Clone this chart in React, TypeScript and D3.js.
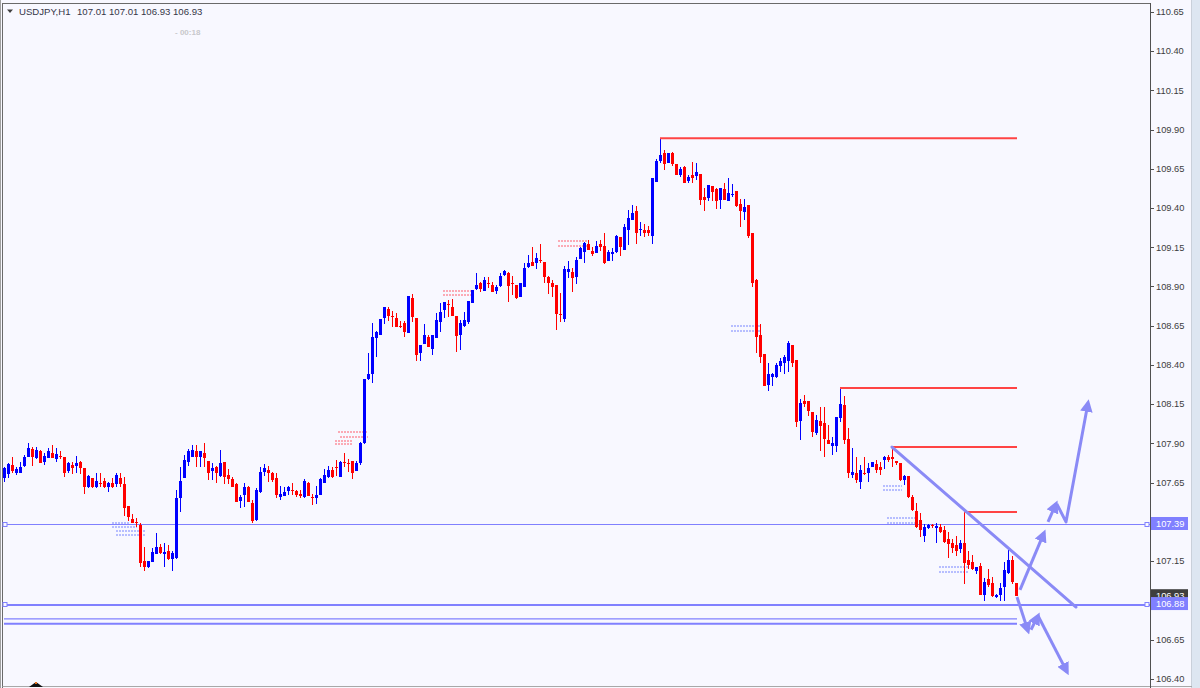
import React from "react";
import * as d3 from "d3";

// ---- OHLC data (USDJPY H1), oldest to newest ----
const opens = [
107.680,107.706,107.763,107.712,107.712,107.757,107.813,107.865,107.807,107.852,
107.782,107.807,107.839,107.801,107.820,107.813,107.725,107.763,107.757,107.782,
107.744,107.622,107.680,107.622,107.648,107.661,107.622,107.648,107.642,107.680,
107.642,107.502,107.419,107.400,107.381,107.152,107.113,107.145,107.197,107.241,
107.197,107.216,107.165,107.171,107.553,107.680,107.782,107.813,107.852,107.813,
107.839,107.789,107.725,107.750,107.693,107.782,107.699,107.674,107.642,107.534,
107.572,107.622,107.521,107.413,107.591,107.718,107.731,107.712,107.680,107.559,
107.566,107.597,107.604,107.597,107.579,107.559,107.648,107.559,107.553,107.572,
107.648,107.686,107.731,107.750,107.686,107.782,107.776,107.789,107.725,107.776,
107.903,108.311,108.342,108.571,108.591,108.699,108.756,108.712,108.699,108.648,
108.667,108.603,108.826,108.699,108.476,108.534,108.578,108.501,108.571,108.673,
108.750,108.788,108.769,108.712,108.591,108.648,108.673,108.794,108.883,108.922,
108.871,108.922,108.909,108.871,108.903,108.972,108.985,108.922,108.909,108.832,
108.896,109.023,109.055,109.049,109.068,109.055,108.960,108.922,108.909,108.724,
108.692,108.991,108.991,108.960,109.075,109.119,109.170,109.125,109.113,109.170,
109.157,109.062,109.106,109.119,109.214,109.132,109.259,109.322,109.380,109.259,
109.259,109.259,109.221,109.564,109.698,109.749,109.685,109.749,109.679,109.609,
109.660,109.571,109.609,109.603,109.615,109.469,109.462,109.539,109.520,109.450,
109.520,109.443,109.482,109.507,109.424,109.373,109.418,109.240,108.941,108.591,
108.470,108.272,108.323,108.323,108.393,108.412,108.425,108.527,108.431,108.043,
108.170,108.170,108.100,107.967,108.043,108.030,107.922,107.884,107.884,108.062,
108.145,107.928,107.699,107.712,107.654,107.712,107.712,107.750,107.770,107.750,
107.795,107.813,107.813,107.789,107.776,107.667,107.693,107.559,107.470,107.413,
107.311,107.362,107.381,107.362,107.368,107.349,107.292,107.266,107.254,107.228,
107.266,107.158,107.145,107.088,107.120,106.935,107.037,107.012,106.922,106.935,
106.986,107.075,107.158,107.010
];
const highs = [
107.750,107.776,107.813,107.750,107.782,107.826,107.903,107.877,107.877,107.858,
107.839,107.871,107.890,107.871,107.852,107.813,107.782,107.782,107.820,107.789,
107.744,107.699,107.680,107.712,107.712,107.680,107.654,107.680,107.712,107.712,
107.686,107.502,107.451,107.425,107.394,107.241,107.152,107.235,107.330,107.260,
107.266,107.254,107.216,107.604,107.750,107.826,107.865,107.890,107.890,107.852,
107.903,107.789,107.776,107.757,107.858,107.782,107.738,107.686,107.648,107.572,
107.648,107.629,107.540,107.616,107.750,107.770,107.757,107.718,107.712,107.629,
107.622,107.629,107.648,107.604,107.604,107.674,107.654,107.579,107.629,107.680,
107.738,107.757,107.750,107.795,107.789,107.839,107.801,107.789,107.789,107.909,
108.311,108.476,108.667,108.616,108.692,108.769,108.769,108.743,108.731,108.680,
108.680,108.839,108.851,108.699,108.527,108.661,108.591,108.591,108.731,108.794,
108.800,108.813,108.820,108.712,108.686,108.737,108.807,108.877,108.985,108.928,
108.960,108.960,108.928,108.909,108.985,109.004,108.991,108.966,108.909,108.922,
109.049,109.100,109.151,109.113,109.170,109.055,108.966,108.941,108.909,108.858,
109.030,109.062,109.017,109.087,109.151,109.182,109.195,109.151,109.189,109.195,
109.240,109.132,109.144,109.227,109.214,109.297,109.386,109.418,109.412,109.310,
109.297,109.284,109.590,109.711,109.845,109.768,109.749,109.755,109.679,109.660,
109.666,109.609,109.692,109.685,109.615,109.526,109.545,109.539,109.526,109.526,
109.558,109.590,109.552,109.507,109.456,109.456,109.418,109.240,108.947,108.661,
108.470,108.412,108.348,108.412,108.444,108.463,108.552,108.527,108.431,108.183,
108.208,108.170,108.100,108.081,108.132,108.132,108.018,107.941,108.068,108.253,
108.202,107.998,107.871,107.813,107.763,107.813,107.776,107.782,107.795,107.782,
107.820,107.826,107.877,107.789,107.776,107.699,107.693,107.572,107.521,107.457,
107.387,107.387,107.387,107.394,107.387,107.375,107.336,107.292,107.311,107.285,
107.464,107.216,107.190,107.113,107.139,107.043,107.101,107.050,106.941,107.012,
107.145,107.222,107.184,107.010
];
const lows = [
107.654,107.680,107.712,107.699,107.712,107.750,107.813,107.757,107.801,107.776,
107.763,107.807,107.807,107.782,107.801,107.686,107.712,107.706,107.712,107.706,
107.579,107.616,107.616,107.616,107.622,107.616,107.591,107.616,107.622,107.622,
107.438,107.407,107.394,107.368,107.113,107.088,107.107,107.145,107.197,107.197,
107.113,107.158,107.088,107.165,107.464,107.680,107.757,107.813,107.750,107.750,
107.750,107.667,107.667,107.648,107.686,107.642,107.642,107.622,107.527,107.489,
107.495,107.527,107.394,107.407,107.585,107.693,107.654,107.654,107.553,107.540,
107.566,107.572,107.572,107.559,107.553,107.553,107.566,107.508,107.515,107.572,
107.648,107.680,107.680,107.693,107.686,107.750,107.718,107.674,107.725,107.763,
107.897,108.304,108.285,108.450,108.591,108.661,108.680,108.641,108.641,108.635,
108.578,108.603,108.673,108.425,108.425,108.534,108.514,108.463,108.571,108.610,
108.699,108.705,108.712,108.482,108.495,108.641,108.661,108.794,108.877,108.864,
108.871,108.890,108.864,108.851,108.896,108.966,108.800,108.845,108.820,108.832,
108.896,109.017,109.030,109.011,109.049,108.922,108.851,108.832,108.622,108.673,
108.673,108.953,108.864,108.916,109.075,109.049,109.132,109.094,109.113,109.125,
109.042,109.062,109.062,109.113,109.094,109.132,109.163,109.322,109.170,109.221,
109.214,109.221,109.170,109.564,109.685,109.641,109.685,109.666,109.609,109.596,
109.558,109.558,109.558,109.577,109.418,109.380,109.443,109.443,109.392,109.392,
109.450,109.443,109.469,109.405,109.278,109.322,109.208,108.896,108.476,108.412,
108.266,108.234,108.266,108.317,108.355,108.342,108.355,108.387,108.005,107.922,
108.132,108.075,107.941,107.954,107.852,107.813,107.897,107.826,107.846,108.037,
107.897,107.680,107.680,107.648,107.610,107.699,107.654,107.750,107.712,107.699,
107.738,107.782,107.750,107.763,107.661,107.635,107.553,107.470,107.362,107.304,
107.273,107.355,107.362,107.266,107.330,107.266,107.171,107.203,107.184,107.203,
107.005,107.101,107.094,107.069,106.935,106.897,106.986,106.922,106.916,106.897,
106.897,107.069,107.005,106.930
];
const closes = [
107.744,107.770,107.725,107.738,107.750,107.813,107.871,107.813,107.858,107.776,
107.820,107.852,107.807,107.833,107.813,107.712,107.776,107.744,107.776,107.744,
107.622,107.693,107.622,107.661,107.642,107.622,107.648,107.622,107.699,107.642,
107.489,107.432,107.394,107.394,107.139,107.113,107.152,107.209,107.241,107.203,
107.209,107.165,107.203,107.553,107.661,107.795,107.852,107.858,107.813,107.852,
107.807,107.712,107.744,107.712,107.776,107.686,107.674,107.622,107.527,107.559,
107.622,107.527,107.407,107.604,107.718,107.744,107.712,107.667,107.572,107.579,
107.591,107.622,107.597,107.572,107.566,107.661,107.566,107.553,107.572,107.674,
107.699,107.731,107.686,107.744,107.782,107.776,107.770,107.712,107.776,107.903,
108.311,108.342,108.578,108.610,108.692,108.769,108.712,108.705,108.641,108.641,
108.610,108.839,108.705,108.463,108.527,108.591,108.514,108.591,108.686,108.737,
108.800,108.781,108.712,108.584,108.667,108.686,108.807,108.877,108.909,108.883,
108.941,108.916,108.864,108.896,108.966,108.998,108.903,108.916,108.826,108.922,
109.017,109.049,109.030,109.081,109.062,108.960,108.922,108.896,108.724,108.718,
109.011,109.011,108.953,109.068,109.144,109.176,109.132,109.106,109.157,109.151,
109.049,109.119,109.119,109.221,109.151,109.278,109.335,109.367,109.240,109.265,
109.240,109.240,109.590,109.698,109.736,109.679,109.749,109.679,109.609,109.647,
109.558,109.596,109.590,109.628,109.450,109.450,109.545,109.501,109.443,109.526,
109.450,109.494,109.488,109.412,109.380,109.405,109.221,108.922,108.578,108.450,
108.266,108.342,108.342,108.399,108.425,108.450,108.540,108.412,108.037,108.158,
108.151,108.107,107.973,108.049,108.011,107.928,107.897,107.903,108.068,108.151,
107.922,107.712,107.718,107.667,107.731,107.706,107.744,107.782,107.731,107.731,
107.813,107.795,107.801,107.776,107.667,107.693,107.559,107.476,107.368,107.349,
107.368,107.381,107.375,107.375,107.336,107.273,107.260,107.235,107.216,107.266,
107.139,107.126,107.101,107.113,106.935,107.018,106.999,106.929,106.935,106.980,
107.094,107.158,107.018,106.930
];

// ---- axis ticks ----
const priceTicks = [106.40, 106.65, 106.90, 107.15, 107.40, 107.65, 107.90, 108.15, 108.40,
  108.65, 108.90, 109.15, 109.40, 109.65, 109.90, 110.15, 110.40, 110.65];

// ---- annotations ----
const resistanceStart = [164, 209, 222, 240];
const resistancePrice = [109.845, 108.253, 107.877, 107.464];
const resistanceEnd = 253.25;

const fullLinePrices = [107.39, 106.88];
const fullLineExtra = [106.872];
const shortLinePrices = [106.782, 106.751];
const shortLineWidths = [1.3, 2];

const trendLine: [number, number][] = [[222, 107.877], [268, 106.858]];
const arrowPaths: [number, number][][] = [
  [[254, 106.967], [260, 107.330]],
  [[261, 107.400], [263, 107.515]],
  [[263.2, 107.515], [265.5, 107.400], [271, 108.158]],
  [[253.25, 106.922], [256, 106.706]],
  [[256.75, 106.713], [258.5, 106.802]],
  [[258.5, 106.802], [265.75, 106.445]],
];

// dotted trade marks: [fromIndex, toIndex, price]
const redMarks: [number, number, number][] = [
  [83.5, 91, 107.973], [84, 91, 107.941], [82.75, 87.25, 107.916], [82.75, 87, 107.897],
  [109.75, 117.25, 108.871], [109.75, 116.75, 108.845],
  [138.5, 146, 109.189], [138.5, 146, 109.157],
];
const blueMarks: [number, number, number][] = [
  [27, 31.5, 107.394], [27, 33.25, 107.368], [28, 35.25, 107.343], [28, 35.25, 107.317],
  [181.75, 189, 108.648], [181.75, 189, 108.616],
  [219.75, 224.5, 107.629], [219.75, 224.5, 107.604],
  [220.75, 228.25, 107.425], [220.75, 228.25, 107.394],
  [233.75, 241, 107.113], [233.75, 241, 107.081],
];

const symbol = "USDJPY,H1";

const W = 1200;
const H = 688;
const AXIS_X = 1150.5;
const FONT = "'Liberation Sans', Arial, sans-serif";
const BULL = "#0000ff";
const BEAR = "#ff0000";
const LINE_BLUE = "#8080ff";
const ARROW_BLUE = "#8a8af6";

export default function App() {
  const x = d3.scaleLinear().domain([0, 253]).range([4, 1016]);
  const y = d3.scaleLinear().domain([106.40, 110.65]).range([678.9, 11.8]);
  const line = d3.line<[number, number]>().x(d => x(d[0])).y(d => y(d[1]));

  const n = opens.length;
  const last = n - 1;
  const header = [opens[last], highs[last], lows[last], closes[last]].map(v => v.toFixed(2)).join(" ");

  const candles = d3.range(n).map(i => {
    const o = opens[i], c = closes[i], h = highs[i], l = lows[i];
    const cx = Math.round(x(i));
    const col = c > o ? BULL : BEAR;
    const top = Math.round(y(Math.max(o, c)));
    const bot = Math.round(y(Math.min(o, c)));
    const hh = Math.max(1, bot - top);
    return (
      <g key={i}>
        <rect x={cx} y={Math.round(y(h))} width={1} height={Math.max(1, Math.round(y(l)) - Math.round(y(h)))} fill={col} />
        <rect x={cx - 1} y={top} width={3} height={hh} fill={col} />
      </g>
    );
  });

  const box = (price: number, fill: string, key: string) => {
    const yy = y(price);
    return (
      <g key={key}>
        <rect x={1151} y={yy - 6.5} width={37} height={13} fill={fill} />
        <text x={1156} y={yy} dy="0.35em" fontSize={9.3} fontFamily={FONT} fill="#ffffff">{price.toFixed(2)}</text>
      </g>
    );
  };

  const square = (cx: number, cy: number, key: string) => (
    <rect key={key} x={cx - 2} y={cy - 2} width={4} height={4} fill="#f8f8ff" stroke={LINE_BLUE} strokeWidth={1} />
  );

  return (
    <div style={{ position: "fixed", left: 0, top: 0 }}>
      <svg width={W} height={H} style={{ display: "block" }}>
        <defs>
          <marker id="ah" viewBox="0 0 10 10" refX="7" refY="5" markerWidth="4.2" markerHeight="4.2" orient="auto">
            <path d="M0,0 L10,5 L0,10 z" fill={ARROW_BLUE} />
          </marker>
        </defs>
        <rect x={0} y={0} width={W} height={H} fill="#f8f8ff" />
        {/* right strip */}
        <rect x={1192} y={0} width={8} height={H} fill="#dde6f1" />
        <line x1={1191.5} x2={1191.5} y1={0} y2={H} stroke="#c9d0da" />

        {/* frame */}
        <line x1={0.5} x2={0.5} y1={0} y2={H} stroke="#a0a0a0" />
        <line x1={2.5} x2={2.5} y1={3} y2={H} stroke="#6a6a6a" />
        <line x1={2.5} x2={AXIS_X} y1={3.5} y2={3.5} stroke="#6a6a6a" />
        <line x1={2.5} x2={1192} y1={686.5} y2={686.5} stroke="#a8a8a8" />

        {/* dotted trade marks */}
        <g shapeRendering="crispEdges">
          {redMarks.map((m, k) => (
            <line key={"r" + k} x1={x(m[0])} x2={x(m[1])} y1={y(m[2])} y2={y(m[2])}
              stroke="#ff6b7a" strokeWidth={2} strokeDasharray="2 1" opacity={0.55} />
          ))}
          {blueMarks.map((m, k) => (
            <line key={"b" + k} x1={x(m[0])} x2={x(m[1])} y1={y(m[2])} y2={y(m[2])}
              stroke="#8c98ff" strokeWidth={2} strokeDasharray="2 1" opacity={0.6} />
          ))}
        </g>

        {/* horizontal blue lines */}
        {fullLinePrices.map((p, k) => (
          <line key={"f" + k} x1={4} x2={AXIS_X} y1={Math.round(y(p)) + 0.5} y2={Math.round(y(p)) + 0.5} stroke={LINE_BLUE} strokeWidth={1} />
        ))}
        {fullLineExtra.map((p, k) => (
          <line key={"fe" + k} x1={4} x2={AXIS_X} y1={Math.round(y(p)) + 0.5} y2={Math.round(y(p)) + 0.5} stroke={LINE_BLUE} strokeWidth={1} />
        ))}
        {shortLinePrices.map((p, k) => (
          <line key={"s" + k} x1={4} x2={x(resistanceEnd)} y1={y(p)} y2={y(p)} stroke={LINE_BLUE} strokeWidth={shortLineWidths[k]} />
        ))}

        {/* candles */}
        <g shapeRendering="crispEdges">{candles}</g>

        {/* resistance lines */}
        {resistanceStart.map((s, k) => (
          <line key={"res" + k} x1={x(s)} x2={x(resistanceEnd)} y1={y(resistancePrice[k])} y2={y(resistancePrice[k])}
            stroke="#ff4444" strokeWidth={2} />
        ))}

        {/* trend line and arrows */}
        <path d={line(trendLine) || ""} fill="none" stroke={ARROW_BLUE} strokeWidth={3} strokeLinecap="round" />
        {arrowPaths.map((pts, k) => (
          <path key={"a" + k} d={line(pts) || ""} fill="none" stroke={ARROW_BLUE} strokeWidth={3}
            strokeLinejoin="round" markerEnd="url(#ah)" />
        ))}

        {/* end squares */}
        {fullLinePrices.map((p, k) => square(5, Math.round(y(p)) + 0.5, "sqL" + k))}
        {fullLinePrices.map((p, k) => square(1147, Math.round(y(p)) + 0.5, "sqR" + k))}

        {/* price axis */}
        <line x1={AXIS_X} x2={AXIS_X} y1={3} y2={H} stroke="#505050" />
        {priceTicks.map(t => (
          <g key={t}>
            <line x1={AXIS_X} x2={1154} y1={Math.round(y(t)) + 0.5} y2={Math.round(y(t)) + 0.5} stroke="#505050" />
            <text x={1156} y={y(t)} dy="0.35em" fontSize={9.3} fontFamily={FONT} fill="#3c3c3c">{t.toFixed(2)}</text>
          </g>
        ))}
        {box(fullLinePrices[0], LINE_BLUE, "b1")}
        {box(closes[last], "#3e3e3e", "b2")}
        {box(fullLinePrices[1], LINE_BLUE, "b3")}

        {/* header */}
        <path d="M7,9.5 L13,9.5 L10,13 z" fill="#404040" />
        <text x={19} y={15} fontSize={9.6} fontFamily={FONT} fill="#363648">{symbol}</text>
        <text x={77} y={15} fontSize={9.6} fontFamily={FONT} fill="#363648" style={{ whiteSpace: "pre" }}>{header}</text>
        <text x={175} y={35} fontSize={8} fontWeight="bold" fontFamily={FONT} fill="#c8c8cc">- 00:18</text>

        {/* bottom-left marker */}
        <path d="M29,687 L43,687 L36,682 z" fill="#111" />
        <rect x={35} y={682} width={2} height={2} fill="#e07020" />
      </svg>
    </div>
  );
}
